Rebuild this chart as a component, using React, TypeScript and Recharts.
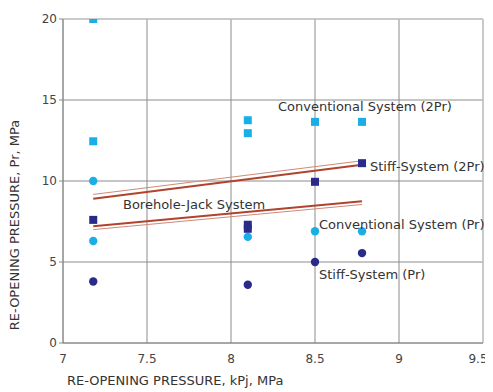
import React from "react";
import { ComposedChart, Scatter, XAxis, YAxis, CartesianGrid, ReferenceLine } from "recharts";

const xTicks = [7, 7.5, 8, 8.5, 9, 9.5];
const yTicks = [0, 5, 10, 15, 20];

const conv2Pr = [
  { x: 7.18, y: 20 },
  { x: 7.18, y: 12.45 },
  { x: 8.1, y: 13.75 },
  { x: 8.1, y: 12.95 },
  { x: 8.5, y: 13.65 },
  { x: 8.78, y: 13.65 },
];
const convPr = [
  { x: 7.18, y: 10 },
  { x: 7.18, y: 6.3 },
  { x: 8.1, y: 6.55 },
  { x: 8.5, y: 6.9 },
  { x: 8.78, y: 6.9 },
];
const stiff2Pr = [
  { x: 7.18, y: 7.6 },
  { x: 8.1, y: 7.3 },
  { x: 8.1, y: 7.05 },
  { x: 8.5, y: 9.95 },
  { x: 8.78, y: 11.1 },
];
const stiffPr = [
  { x: 7.18, y: 3.8 },
  { x: 8.1, y: 3.6 },
  { x: 8.5, y: 5.0 },
  { x: 8.78, y: 5.55 },
];
const upperLine = [
  { x: 7.18, y: 8.9 },
  { x: 8.78, y: 11.0 },
];
const upperLineThin = [
  { x: 7.18, y: 9.17 },
  { x: 8.78, y: 11.25 },
];
const lowerLine = [
  { x: 7.18, y: 7.2 },
  { x: 8.78, y: 8.75 },
];
const lowerLineThin = [
  { x: 7.18, y: 7.0 },
  { x: 8.78, y: 8.55 },
];

const LIGHT = "#1aaee6";
const DARK = "#2a2a8a";
const RED = "#b0432e";
const RED_THIN = "#d08878";

const Square = (color: string) => (props: any) => {
  const { cx, cy } = props;
  if (cx == null || cy == null) return null;
  return <rect x={cx - 4} y={cy - 4} width={8} height={8} fill={color} />;
};
const Circle = (color: string) => (props: any) => {
  const { cx, cy } = props;
  if (cx == null || cy == null) return null;
  return <circle cx={cx} cy={cy} r={4.2} fill={color} />;
};
const NoShape = () => null;

const font = "'DejaVu Sans', sans-serif";
const textColor = "#333";

const XTick = (props: any) => {
  const { x, y, payload } = props;
  const v = payload.value;
  const dx = v === 9.5 ? -5 : 0;
  return (
    <text x={x + dx} y={y + 12} textAnchor="middle" fill="#444" fontSize={12} fontFamily={font}>
      {String(v)}
    </text>
  );
};

export default function App() {
  return (
    <div style={{ position: "relative", width: 485, height: 384, fontFamily: font }}>
      <ComposedChart
        width={485}
        height={384}
        margin={{ top: 11, right: 10, bottom: 29, left: 0 }}
      >
        <CartesianGrid stroke="#8c8c8c" strokeWidth={1} />
        <XAxis
          type="number"
          dataKey="x"
          domain={[7, 9.5]}
          ticks={xTicks}
          axisLine={{ stroke: "#888" }}
          tickLine={false}
          tick={<XTick />}
          height={20}
          allowDataOverflow
        />
        <YAxis
          type="number"
          dataKey="y"
          domain={[0, 20]}
          ticks={yTicks}
          axisLine={{ stroke: "#888" }}
          tickLine={{ stroke: "#888" }}
          tickSize={4}
          tick={{ fill: "#444", fontSize: 12, fontFamily: font }}
          width={55}
          allowDataOverflow
        />
        <ReferenceLine y={20} stroke="#cfcfcf" />
        <ReferenceLine x={9.5} stroke="#cfcfcf" />
        <Scatter data={upperLineThin} line={{ stroke: RED_THIN, strokeWidth: 1 }} shape={NoShape} isAnimationActive={false} />
        <Scatter data={upperLine} line={{ stroke: RED, strokeWidth: 2 }} shape={NoShape} isAnimationActive={false} />
        <Scatter data={lowerLineThin} line={{ stroke: RED_THIN, strokeWidth: 1 }} shape={NoShape} isAnimationActive={false} />
        <Scatter data={lowerLine} line={{ stroke: RED, strokeWidth: 2 }} shape={NoShape} isAnimationActive={false} />
        <Scatter data={conv2Pr} shape={Square(LIGHT)} isAnimationActive={false} />
        <Scatter data={convPr} shape={Circle(LIGHT)} isAnimationActive={false} />
        <Scatter data={stiff2Pr} shape={Square(DARK)} isAnimationActive={false} />
        <Scatter data={stiffPr} shape={Circle(DARK)} isAnimationActive={false} />
      </ComposedChart>
      <svg
        width={485}
        height={384}
        style={{ position: "absolute", left: 0, top: 0, pointerEvents: "none" }}
      >
        <g fontFamily={font} fontSize={13} fill={textColor}>
          <text x={270} y={103}>Conventional System (2Pr)</text>
          <text x={362} y={163}>Stiff-System (2Pr)</text>
          <text x={115} y={201}>Borehole-Jack System</text>
          <text x={311} y={221}>Conventional System (Pr)</text>
          <text x={311} y={271}>Stiff-System (Pr)</text>
          <text x={59} y={377}>RE-OPENING PRESSURE, kPj, MPa</text>
          <text x={11} y={217} transform="rotate(-90 11 217)" textAnchor="middle">
            RE-OPENING PRESSURE, Pr, MPa
          </text>
        </g>
      </svg>
    </div>
  );
}
